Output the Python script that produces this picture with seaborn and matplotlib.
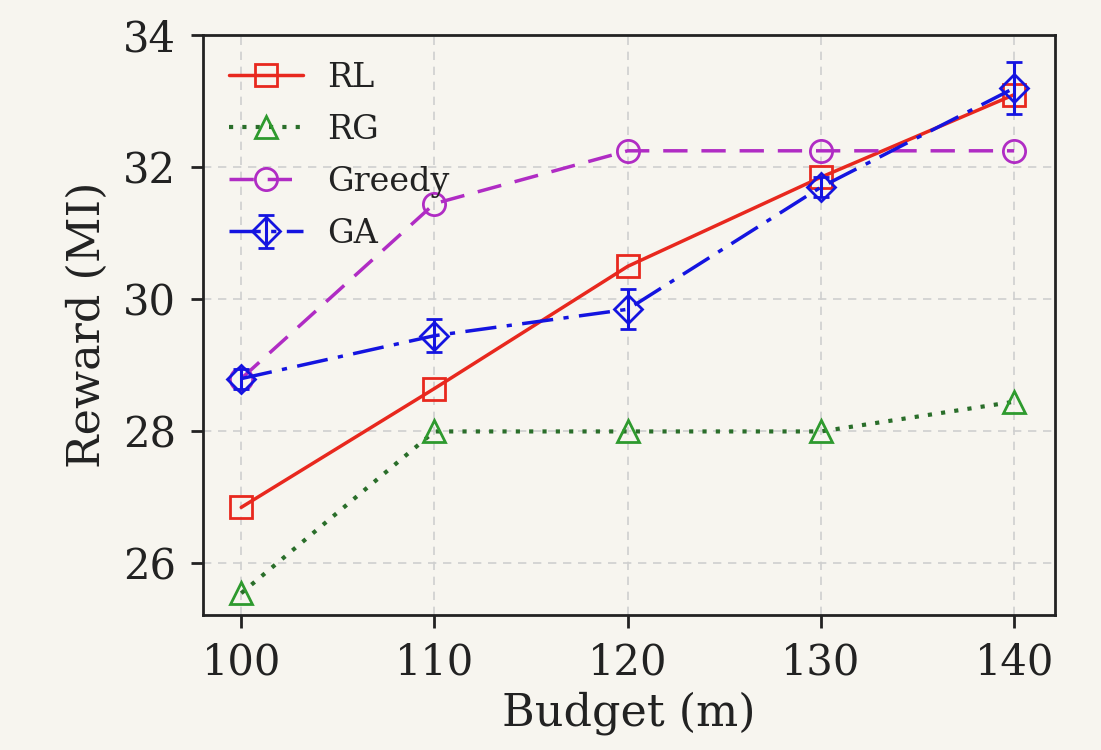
import numpy as np
import pandas as pd
import matplotlib
matplotlib.use("Agg")
import matplotlib.pyplot as plt
import seaborn as sns

budget = [100, 110, 120, 130, 140]
rl = [26.85, 28.65, 30.5, 31.85, 33.1]
rg = [25.55, 28.0, 28.0, 28.0, 28.45]
greedy = [28.8, 31.45, 32.25, 32.25, 32.25]
ga = [28.8, 29.45, 29.85, 31.7, 33.2]
ga_err = [0.15, 0.25, 0.3, 0.15, 0.4]

BG = "#f7f5ef"
sns.set_theme(style="ticks")
plt.rcParams["font.family"] = ["DejaVu Serif"]
plt.rcParams["mathtext.fontset"] = "dejavuserif"

fig = plt.figure(figsize=(11.01, 7.5), dpi=100, facecolor=BG)
ax = fig.add_axes([0.184, 0.18, 0.774, 0.773])
ax.set_facecolor(BG)

ms = 16
lw = 2.5
sns.lineplot(x=budget, y=rl, ax=ax, color="#e8281e", linestyle="-", marker="s",
             markersize=ms, markerfacecolor="none", markeredgecolor="#e8281e",
             markeredgewidth=2, linewidth=lw, label="RL")
sns.lineplot(x=budget, y=rg, ax=ax, color="#2a6e2a", linestyle=(0, (1, 2.2)), marker="^",
             markersize=ms, markerfacecolor="none", markeredgecolor="#2e9a2e",
             markeredgewidth=2, linewidth=lw + 0.5, label="RG")
sns.lineplot(x=budget, y=greedy, ax=ax, color="#b02cc4", linestyle=(0, (7, 4)), marker="o",
             markersize=ms, markerfacecolor="none", markeredgecolor="#b02cc4",
             markeredgewidth=2, linewidth=lw, label="Greedy")
ax.errorbar(budget, ga, yerr=ga_err, color="#1414e0", linestyle=(0, (9, 3, 1.5, 3)), marker="D",
            markersize=ms - 2, markerfacecolor="none", markeredgecolor="#1414e0",
            markeredgewidth=2, linewidth=lw, capsize=6, capthick=2, elinewidth=2.2,
            label="GA")

ax.set_xlim(98.0, 142.1)
ax.set_ylim(25.22, 34)
ax.set_xticks(budget)
ax.set_yticks([26, 28, 30, 32, 34])
ax.grid(True, linestyle=(0, (5, 4)), color="#cfcfcf", linewidth=1.2)
ax.set_axisbelow(True)
for s in ax.spines.values():
    s.set_color("#222222")
    s.set_linewidth(2)
ax.tick_params(axis="both", labelsize=30, length=9, width=2, color="#222222",
               labelcolor="#222222", direction="out")
ax.tick_params(axis="y", pad=10)
ax.tick_params(axis="x", pad=10)
ax.set_xlabel("Budget (m)", fontsize=32, color="#222222", labelpad=6)
ax.set_ylabel("Reward (MI)", fontsize=32, color="#222222", labelpad=10)

leg = ax.legend(loc="upper left", frameon=False, fontsize=24, handlelength=2.2,
                borderaxespad=0.4, labelspacing=0.6, handletextpad=0.75)
for t in leg.get_texts():
    t.set_color("#222222")

fig.savefig("out.png", dpi=100, facecolor=BG)
